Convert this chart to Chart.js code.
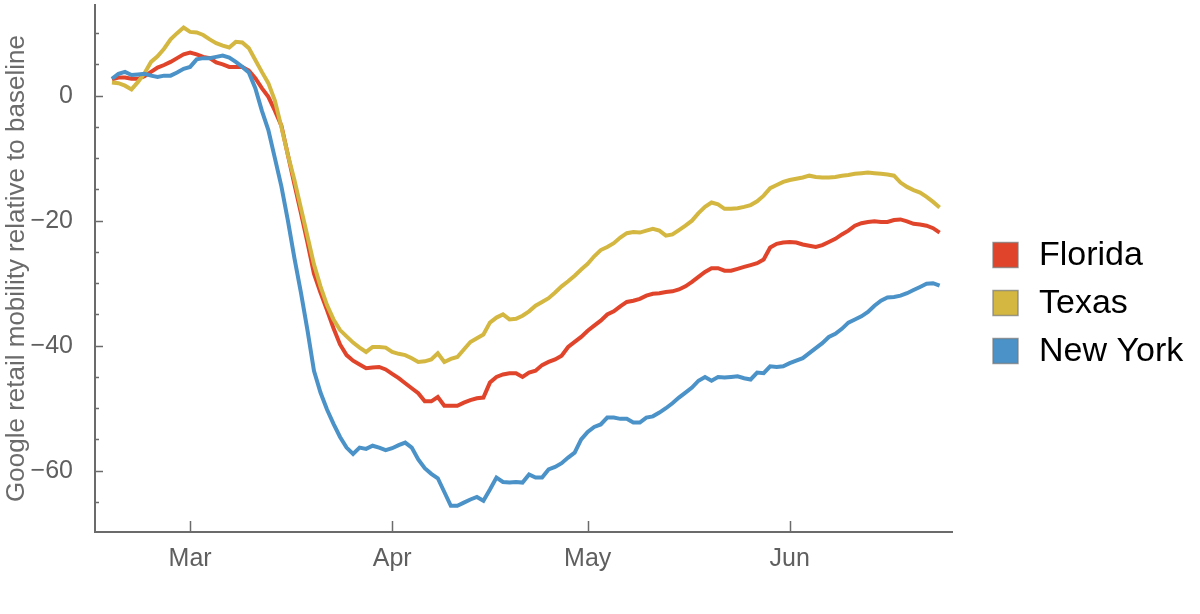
<!DOCTYPE html>
<html>
<head>
<meta charset="utf-8">
<title>Google retail mobility</title>
<script src="https://cdn.jsdelivr.net/npm/chart.js@4.4.1/dist/chart.umd.min.js"></script>
<style>
    html, body { margin: 0; padding: 0; background: #ffffff; }
    #mobilidadeChart { display: block; }
</style>
</head>
<body>
<canvas id="mobilidadeChart" width="1200" height="614"></canvas>
<script>
// =================== DADOS ===================
// Dias contados a partir de 1 de março (primeiro ponto: 18 de fevereiro)
const primeiroDia = -12;

const estados = ['Florida', 'Texas', 'New York'];
const cores = ['rgb(224, 68, 42)', 'rgb(212, 183, 64)', 'rgb(74, 146, 199)'];

const florida = [
    2.6, 2.9, 2.9, 2.7, 2.7, 3.1, 3.8, 4.5, 4.9, 5.4, 6.0, 6.6,
    6.9, 6.6, 6.2, 6.0, 5.3, 5.0, 4.6, 4.6, 4.6, 4.0, 2.8, 1.2, -0.2, -2.4, -4.8, -9.5,
    -14.2, -18.8, -23.5, -28.5, -31.5, -34.3, -37.2, -39.8, -41.5, -42.4, -43.0, -43.6, -43.5, -43.4, -43.8,
    -44.5, -45.2, -46.0, -46.8, -47.6, -48.9, -48.9, -48.2, -49.6, -49.6, -49.6, -49.1, -48.7, -48.4, -48.3,
    -45.9, -45.0, -44.6, -44.4, -44.4, -45.0, -44.3, -44.0, -43.1, -42.6, -42.2, -41.6, -40.2, -39.4, -38.6,
    -37.6, -36.8, -36.0, -35.0, -34.5, -33.7, -33.0, -32.8, -32.5, -32.0, -31.7, -31.6, -31.4, -31.3, -31.0,
    -30.5, -29.8, -29.0, -28.2, -27.6, -27.6, -28.0, -28.0, -27.7, -27.4, -27.1, -26.8, -26.2, -24.3, -23.7, -23.5,
    -23.4, -23.5, -23.8, -24.0, -24.2, -23.9, -23.4, -22.9, -22.2, -21.6, -20.8, -20.4,
    -20.2, -20.1, -20.2, -20.2, -19.9, -19.8, -20.1, -20.5, -20.6, -20.8, -21.2, -21.9
];

const texas = [
    2.1, 2.0, 1.6, 1.0, 2.2, 3.6, 5.4, 6.3, 7.5, 9.0, 10.0, 10.9,
    10.2, 10.1, 9.7, 9.0, 8.4, 8.0, 7.7, 8.6, 8.5, 7.6, 5.7, 3.8, 2.0, -0.8, -5.0, -9.5,
    -13.5, -18.0, -22.5, -27.0, -30.5, -33.5, -35.8, -37.5, -38.5, -39.5, -40.3, -41.0, -40.2, -40.2, -40.3,
    -41.0, -41.3, -41.5, -42.0, -42.6, -42.5, -42.2, -41.2, -42.6, -42.1, -41.8, -40.6, -39.4, -38.8, -38.2,
    -36.3, -35.5, -35.0, -35.8, -35.7, -35.2, -34.5, -33.6, -33.0, -32.4, -31.5, -30.5, -29.7, -28.8, -27.8,
    -26.9, -25.7, -24.7, -24.2, -23.6, -22.7, -22.0, -21.8, -21.9, -21.6, -21.3, -21.6, -22.4, -22.2, -21.5,
    -20.8, -20.0, -18.8, -17.8, -17.1, -17.4, -18.1, -18.1, -18.0, -17.8, -17.5, -16.9, -16.0, -14.8, -14.3, -13.8,
    -13.5, -13.3, -13.1, -12.8, -13.0, -13.1, -13.1, -13.0, -12.8, -12.7, -12.5, -12.4,
    -12.3, -12.4, -12.5, -12.6, -12.8, -13.9, -14.6, -15.1, -15.5, -16.2, -17.0, -17.9
];

const novaYork = [
    2.7, 3.5, 3.8, 3.3, 3.4, 3.5, 3.2, 3.0, 3.2, 3.2, 3.7, 4.3,
    4.6, 5.8, 6.0, 6.0, 6.2, 6.4, 6.1, 5.4, 4.6, 3.7, 1.2, -2.4, -5.5, -10.0, -14.5, -20.0,
    -26.0, -31.5, -37.5, -44.0, -47.5, -50.2, -52.5, -54.6, -56.3, -57.3, -56.3, -56.5, -56.0, -56.3, -56.7,
    -56.4, -55.9, -55.5, -56.3, -58.2, -59.6, -60.5, -61.2, -63.4, -65.6, -65.6, -65.1, -64.6, -64.2, -64.8,
    -63.0, -61.1, -61.8, -61.9, -61.8, -61.9, -60.6, -61.1, -61.1, -59.8, -59.4, -58.8, -57.9, -57.1, -55.0,
    -53.8, -53.0, -52.6, -51.5, -51.5, -51.7, -51.7, -52.3, -52.3, -51.5, -51.3, -50.7, -50.0, -49.2, -48.3,
    -47.5, -46.7, -45.6, -45.0, -45.6, -45.0, -45.1, -45.0, -44.9, -45.2, -45.4, -44.3, -44.4, -43.3, -43.4, -43.3,
    -42.8, -42.4, -42.0, -41.2, -40.4, -39.6, -38.6, -38.1, -37.3, -36.3, -35.8, -35.3,
    -34.6, -33.6, -32.8, -32.3, -32.2, -32.0, -31.6, -31.1, -30.6, -30.1, -30.0, -30.4
];

// Ticks dos eixos
const mesesPos = [0, 31, 61, 92];
const mesesLabels = ['Mar', 'Apr', 'May', 'Jun'];
const yTicks = [0, -20, -40, -60];
const yTicksMenores = [10, 5, -5, -10, -15, -25, -30, -35, -45, -50, -55, -65];

const corEixo = '#6b6b6b';
const fonte = '"Liberation Sans", Arial, Helvetica, sans-serif';

// =================== PLUGINS ===================
// Ticks para dentro da área do gráfico, como no original
const ticksInternos = {
    id: 'ticksInternos',
    afterDraw(chart) {
        const { ctx, chartArea } = chart;
        const x = chart.scales.x;
        const y = chart.scales.y;
        ctx.save();
        ctx.strokeStyle = corEixo;
        ctx.lineWidth = 1.5;
        ctx.beginPath();
        mesesPos.forEach(v => {
            const px = Math.round(x.getPixelForValue(v)) + 0.5;
            ctx.moveTo(px, chartArea.bottom);
            ctx.lineTo(px, chartArea.bottom - 11);
        });
        yTicks.forEach(v => {
            const py = Math.round(y.getPixelForValue(v)) + 0.5;
            ctx.moveTo(chartArea.left, py);
            ctx.lineTo(chartArea.left + 8, py);
        });
        yTicksMenores.forEach(v => {
            const py = Math.round(y.getPixelForValue(v)) + 0.5;
            ctx.moveTo(chartArea.left, py);
            ctx.lineTo(chartArea.left + 4, py);
        });
        ctx.stroke();
        ctx.restore();
    }
};

// Legenda à direita com quadrados
const legendaQuadrados = {
    id: 'legendaQuadrados',
    afterDraw(chart) {
        const { ctx } = chart;
        ctx.save();
        ctx.font = '34px ' + fonte;
        ctx.textBaseline = 'middle';
        ctx.textAlign = 'left';
        chart.data.datasets.forEach((ds, i) => {
            const cy = 255 + i * 48;
            ctx.fillStyle = ds.borderColor;
            ctx.fillRect(993, cy - 12.5, 25, 25);
            ctx.strokeStyle = 'rgba(120, 120, 120, 0.7)';
            ctx.lineWidth = 1.5;
            ctx.strokeRect(993, cy - 12.5, 25, 25);
            ctx.fillStyle = '#000000';
            ctx.fillText(ds.label, 1039, cy + 1);
        });
        ctx.restore();
    }
};

// =================== GRÁFICO ===================
function criarSerie(nome, valores, cor, ordem) {
    return {
        label: nome,
        data: valores.map((v, i) => ({ x: primeiroDia + i, y: v })),
        borderColor: cor,
        backgroundColor: cor,
        borderWidth: 4,
        pointRadius: 0,
        fill: false,
        tension: 0,
        order: ordem
    };
}

const ctx = document.getElementById('mobilidadeChart');

new Chart(ctx, {
    type: 'line',
    data: {
        datasets: [
            criarSerie(estados[0], florida, cores[0], 3),
            criarSerie(estados[1], texas, cores[1], 2),
            criarSerie(estados[2], novaYork, cores[2], 1)
        ]
    },
    options: {
        responsive: false,
        animation: false,
        layout: { padding: { top: 5, right: 248, bottom: 0, left: 0 } },
        plugins: {
            legend: { display: false },
            tooltip: { enabled: false }
        },
        scales: {
            x: {
                type: 'linear',
                min: -14.6,
                max: 116.9,
                grid: { display: false, drawTicks: false },
                border: { display: true, color: corEixo, width: 2 },
                afterBuildTicks: scale => {
                    scale.ticks = mesesPos.map(v => ({ value: v }));
                },
                afterFit: scale => {
                    scale.height = 82;
                    scale.paddingLeft = 0;
                    scale.paddingRight = 0;
                },
                ticks: {
                    padding: 12,
                    color: '#5f5f5f',
                    maxRotation: 0,
                    autoSkip: false,
                    font: { family: fonte, size: 25 },
                    callback: v => mesesLabels[mesesPos.indexOf(v)]
                }
            },
            y: {
                type: 'linear',
                min: -69.8,
                max: 14.5,
                grid: { display: false, drawTicks: false },
                border: { display: true, color: corEixo, width: 2 },
                afterBuildTicks: scale => {
                    scale.ticks = yTicks.map(v => ({ value: v }));
                },
                afterFit: scale => {
                    scale.width = 95;
                    scale.paddingTop = 0;
                    scale.paddingBottom = 0;
                },
                title: {
                    display: true,
                    text: 'Google retail mobility relative to baseline',
                    color: '#6b6b6b',
                    font: { family: fonte, size: 26 },
                    padding: { top: 1, bottom: 0 }
                },
                ticks: {
                    padding: 22,
                    color: '#5f5f5f',
                    font: { family: fonte, size: 25 },
                    callback: v => (v < 0 ? '\u2212' + Math.abs(v) : String(v))
                }
            }
        }
    },
    plugins: [ticksInternos, legendaQuadrados]
});
</script>
</body>
</html>
